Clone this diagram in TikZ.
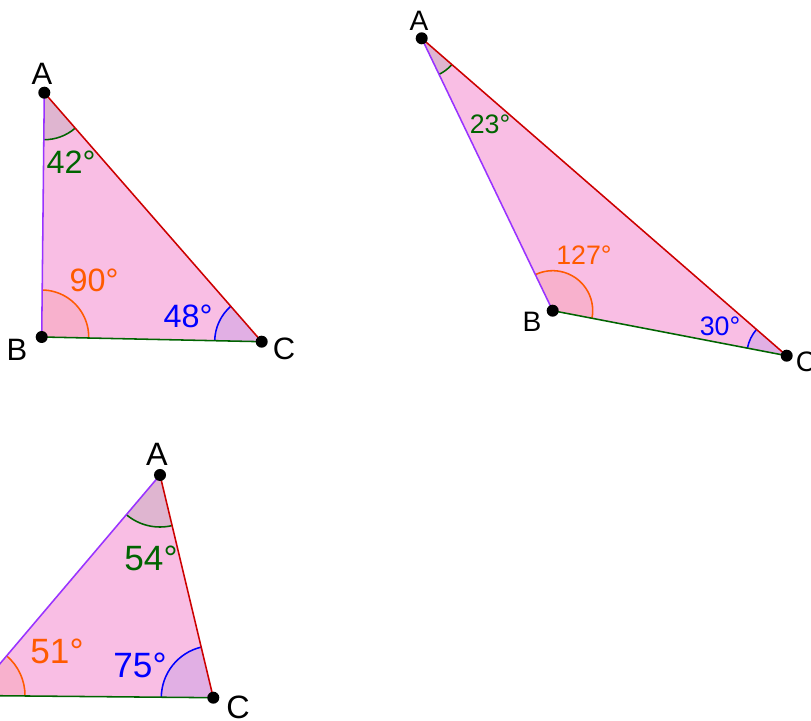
\documentclass[tikz,border=0pt]{standalone}
\usepackage{fontspec}
\setmainfont{Liberation Sans}
\usetikzlibrary{angles}

\definecolor{triPink}{RGB}{249,190,228}
\definecolor{secA}{RGB}{223,181,208}
\definecolor{secB}{RGB}{248,177,205}
\definecolor{secC}{RGB}{225,175,228}
\definecolor{edgePurple}{RGB}{153,51,255}
\definecolor{edgeRed}{RGB}{204,0,0}
\definecolor{edgeGreen}{RGB}{0,100,0}
\definecolor{arcOrange}{RGB}{255,90,0}
\definecolor{arcBlue}{RGB}{0,0,255}

\tikzset{
  vertex/.style={circle, fill=black, inner sep=0pt, minimum size=0.3cm},
  sideAB/.style={draw=edgePurple, line width=1.1pt},
  sideAC/.style={draw=edgeRed, line width=1.1pt},
  sideBC/.style={draw=edgeGreen, line width=1.1pt},
  angA/.style={draw=edgeGreen, fill=secA, line width=1.1pt},
  angB/.style={draw=arcOrange, fill=secB, line width=1.1pt},
  angC/.style={draw=arcBlue, fill=secC, line width=1.1pt},
}

\begin{document}
\begin{tikzpicture}[x=0.025cm, y=-0.025cm,
  ptname/.style={inner sep=0pt, font=\fontsize{#1}{#1}\selectfont},
  degA/.style={inner sep=0pt, text=edgeGreen, font=\fontsize{#1}{#1}\selectfont},
  degB/.style={inner sep=0pt, text=arcOrange, font=\fontsize{#1}{#1}\selectfont},
  degC/.style={inner sep=0pt, text=arcBlue, font=\fontsize{#1}{#1}\selectfont}
]
  \clip (0,0) rectangle (811,721);

  % right triangle, top left
  \coordinate (A1) at (44.3,92.7);
  \coordinate (B1) at (41.7,337);
  \coordinate (C1) at (261.7,341.7);
  \fill[triPink] (A1) -- (B1) -- (C1) -- cycle;
  \pic[angA, angle radius=1.175cm] {angle=B1--A1--C1};
  \pic[angB, angle radius=1.175cm] {angle=C1--B1--A1};
  \pic[angC, angle radius=1.175cm] {angle=A1--C1--B1};
  \draw[sideAB] (A1) -- (B1);
  \draw[sideBC] (B1) -- (C1);
  \draw[sideAC] (A1) -- (C1);
  \node[vertex] (dA1) at (A1) {};
  \node[vertex] (dB1) at (B1) {};
  \node[vertex] (dC1) at (C1) {};
  \node[ptname=22] (nA1) at (42,74) {A};
  \node[ptname=22] (nB1) at (17,350) {B};
  \node[ptname=22] (nC1) at (284,349) {C};
  \node[degA=23] (gA1) at (71,162) {42°};
  \node[degB=23] (gB1) at (94,280) {90°};
  \node[degC=23] (gC1) at (188,316) {48°};

  % obtuse triangle, top right
  \coordinate (A2) at (421.7,38.3);
  \coordinate (B2) at (552.7,310.7);
  \coordinate (C2) at (786.7,355.7);
  \fill[triPink] (A2) -- (B2) -- (C2) -- cycle;
  \pic[angA, angle radius=1cm] {angle=B2--A2--C2};
  \pic[angB, angle radius=1cm] {angle=C2--B2--A2};
  \pic[angC, angle radius=1cm] {angle=A2--C2--B2};
  \draw[sideAB] (A2) -- (B2);
  \draw[sideBC] (B2) -- (C2);
  \draw[sideAC] (A2) -- (C2);
  \node[vertex] (dA2) at (A2) {};
  \node[vertex] (dB2) at (B2) {};
  \node[vertex] (dC2) at (C2) {};
  \node[ptname=20] (nA2) at (419,21) {A};
  \node[ptname=20] (nB2) at (532,322) {B};
  \node[ptname=20] (nC2) at (806,362) {C};
  \node[degA=19] (gA2) at (490,124) {23°};
  \node[degB=19] (gB2) at (584,255) {127°};
  \node[degC=19] (gC2) at (720,326) {30°};

  % acute triangle, bottom left
  \coordinate (A3) at (160,475);
  \coordinate (B3) at (-27,695.5);
  \coordinate (C3) at (213.3,697.7);
  \fill[triPink] (A3) -- (B3) -- (C3) -- cycle;
  \pic[angA, angle radius=1.3cm] {angle=B3--A3--C3};
  \pic[angB, angle radius=1.3cm] {angle=C3--B3--A3};
  \pic[angC, angle radius=1.3cm] {angle=A3--C3--B3};
  \draw[sideAB] (A3) -- (B3);
  \draw[sideBC] (B3) -- (C3);
  \draw[sideAC] (A3) -- (C3);
  \node[vertex] (dA3) at (A3) {};
  \node[vertex] (dB3) at (B3) {};
  \node[vertex] (dC3) at (C3) {};
  \node[ptname=23] (nA3) at (157,454) {A};
  \node[ptname=23] (nC3) at (238,707) {C};
  \node[degA=25] (gA3) at (151,558) {54°};
  \node[degB=25] (gB3) at (57,651) {51°};
  \node[degC=25] (gC3) at (140,665) {75°};
\end{tikzpicture}
\end{document}
